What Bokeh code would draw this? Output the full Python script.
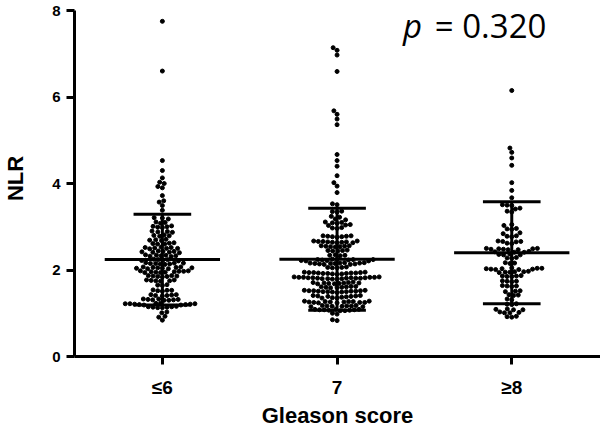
import numpy as np
from bokeh.plotting import figure
from bokeh.models import Range1d, FixedTicker, Label
from bokeh.embed import file_html
from bokeh.resources import INLINE

categories = ["≤6", "7", "≥8"]
cat_pos = [1, 2, 3]

nlr_le6 = [7.75, 6.60, 4.53, 4.30, 4.13, 4.03, 4.00, 3.93, 3.90, 3.72, 3.60, 3.57, 3.49, 3.38,
           3.21, 3.20, 3.18, 3.11, 3.10, 3.08, 3.02, 3.01, 3.00, 2.99, 2.98,
           2.90, 2.89, 2.88, 2.87, 2.81, 2.80, 2.79, 2.78, 2.71, 2.70, 2.69, 2.68,
           2.63, 2.62, 2.61, 2.60, 2.60, 2.53, 2.52, 2.52, 2.51, 2.50, 2.50, 2.49,
           2.44, 2.43, 2.43, 2.42, 2.41, 2.41, 2.40, 2.35, 2.34, 2.34, 2.33, 2.33, 2.32, 2.31,
           2.25, 2.24, 2.24, 2.23, 2.22, 2.21, 2.17, 2.16, 2.16, 2.15, 2.15, 2.14, 2.14, 2.13,
           2.07, 2.07, 2.06, 2.06, 2.05, 2.05, 2.04, 2.04, 2.03, 2.03,
           1.98, 1.98, 1.97, 1.97, 1.96, 1.96, 1.95, 1.95, 1.94, 1.94,
           1.87, 1.87, 1.86, 1.86, 1.85, 1.85, 1.84, 1.77, 1.77, 1.76, 1.75, 1.75, 1.74,
           1.66, 1.65, 1.64, 1.54, 1.53, 1.53, 1.52, 1.51, 1.43, 1.43, 1.42, 1.41, 1.41, 1.40,
           1.33, 1.33, 1.32, 1.32, 1.31, 1.31, 1.30, 1.30,
           1.23, 1.23, 1.22, 1.22, 1.22, 1.21, 1.21, 1.20, 1.20, 1.19, 1.19,
           1.16, 1.15, 1.15, 1.14, 1.14, 1.13, 1.13, 1.03, 1.01, 0.93, 0.91, 0.84]

nlr_7 = [7.14, 7.08, 6.97, 6.59, 5.68, 5.60, 5.49, 5.36, 4.67, 4.53, 4.40, 4.18, 4.02, 3.94, 3.79, 3.53, 3.51,
         3.36, 3.35, 3.34, 3.24, 3.22, 3.18, 3.16, 3.11, 3.10, 3.09, 3.08, 3.05, 3.04, 3.03,
         2.98, 2.97, 2.96, 2.79, 2.79, 2.78, 2.78, 2.77, 2.77, 2.76,
         2.67, 2.67, 2.66, 2.66, 2.65, 2.65, 2.64, 2.64, 2.63, 2.63,
         2.56, 2.56, 2.55, 2.55, 2.54, 2.54, 2.53, 2.46, 2.45, 2.45, 2.44, 2.44,
         2.35, 2.34, 2.34, 2.33,
         2.25, 2.25, 2.24, 2.24, 2.24, 2.23, 2.23, 2.22, 2.22, 2.21, 2.21,
         2.17, 2.17, 2.16, 2.16, 2.16, 2.15, 2.15, 2.15, 2.14, 2.14, 2.13, 2.13,
         2.07, 2.06, 2.06, 2.05, 2.05,
         1.95, 1.95, 1.94, 1.94, 1.94, 1.93, 1.93, 1.93, 1.92, 1.92, 1.92, 1.91, 1.91, 1.90,
         1.84, 1.84, 1.83, 1.83, 1.83, 1.83, 1.82, 1.82, 1.82, 1.82, 1.81, 1.81, 1.81, 1.81,
         1.80, 1.80, 1.80, 1.79, 1.79,
         1.72, 1.71, 1.71, 1.70, 1.70, 1.70, 1.69, 1.69, 1.68, 1.68,
         1.62, 1.62, 1.61, 1.61, 1.60, 1.60, 1.59, 1.59,
         1.53, 1.53, 1.52, 1.52, 1.52, 1.51, 1.51, 1.51, 1.50, 1.50, 1.50, 1.49, 1.49, 1.48,
         1.41, 1.41, 1.40, 1.40, 1.39, 1.39, 1.38, 1.37, 1.36, 1.35, 1.35,
         1.28, 1.28, 1.27, 1.27, 1.27, 1.26, 1.26, 1.26, 1.25, 1.25, 1.25, 1.24, 1.24,
         1.18, 1.18, 1.17, 1.17, 1.17, 1.16, 1.16, 1.15, 1.15,
         1.09, 1.09, 1.09, 1.08, 1.08, 1.08, 1.07, 1.07, 1.06, 1.06,
         1.00, 0.98, 0.85, 0.83]

nlr_ge8 = [6.15, 4.82, 4.72, 4.59, 4.42, 4.02, 3.84, 3.67,
           3.51, 3.50, 3.49, 3.43, 3.41, 3.36, 3.34, 3.05, 3.03, 2.96, 2.95, 2.94,
           2.86, 2.84, 2.79, 2.78, 2.77, 2.67, 2.66, 2.66, 2.65, 2.62, 2.61,
           2.50, 2.50, 2.49, 2.49, 2.48, 2.48, 2.47, 2.47, 2.43, 2.42, 2.41, 2.41,
           2.37, 2.36, 2.35, 2.35, 2.29, 2.28, 2.27, 2.17, 2.16, 2.15,
           2.05, 2.04, 2.04, 2.03, 2.03, 2.02, 2.02, 2.01, 2.01,
           1.97, 1.96, 1.96, 1.95, 1.95, 1.94, 1.87, 1.86, 1.86, 1.85, 1.85,
           1.75, 1.74, 1.74, 1.73, 1.64, 1.63, 1.63, 1.62, 1.52, 1.51, 1.50,
           1.43, 1.42, 1.41, 1.33, 1.31, 1.22, 1.21, 1.20,
           1.10, 1.09, 1.08, 1.08, 1.03, 1.02, 1.01, 1.01, 0.93, 0.92, 0.91]

group_means = [2.24, 2.25, 2.40]
group_sds = [1.05, 1.18, 1.18]
y_ticks = [0, 2, 4, 6, 8]

W, H = 600, 435
ML, MB = 73, 79
X0, X1 = 0.497, 3.508
# y = 8 sits 10px below the top of the frame; the frame runs to the top of the canvas
px_y = (H - MB - 10) / 8.0
Y0, Y1 = 0.0, (H - MB) / px_y

p = figure(width=W, height=H, output_backend="svg", toolbar_location=None,
           x_range=Range1d(X0, X1), y_range=Range1d(Y0, Y1),
           min_border_left=ML, min_border_right=0, min_border_top=0, min_border_bottom=MB)
p.outline_line_color = None
p.xgrid.visible = False
p.ygrid.visible = False
p.background_fill_color = "white"

px_x = (W - ML) / (X1 - X0)
D = 4.7


def swarm(values, center):
    vals = np.asarray(values, dtype=float)
    order = np.argsort(vals, kind="stable")
    placed = []
    out = np.zeros(len(vals))
    for i in order:
        y = vals[i] * px_y
        near = [(qx, qy) for qx, qy in placed if abs(qy - y) < D]
        cands = [0.0]
        for qx, qy in near:
            dx = np.sqrt(D * D - (qy - y) ** 2)
            cands += [qx + dx, qx - dx]
        cands.sort(key=lambda c: (abs(c), c))
        chosen = 0.0
        for c in cands:
            if all((c - qx) ** 2 + (y - qy) ** 2 >= D * D - 1e-6 for qx, qy in near):
                chosen = c
                break
        placed.append((chosen, y))
        out[i] = center + chosen / px_x
    return out


for vals, cx in zip([nlr_le6, nlr_7, nlr_ge8], cat_pos):
    xs = swarm(vals, cx)
    p.scatter(xs, vals, size=4, color="black", marker="circle")

mean_half = 0.33
cap_half = 0.165
for cx, m, s in zip(cat_pos, group_means, group_sds):
    p.segment(x0=[cx - mean_half], y0=[m], x1=[cx + mean_half], y1=[m], line_width=3, color="black")
    p.segment(x0=[cx - cap_half], y0=[m + s], x1=[cx + cap_half], y1=[m + s], line_width=3, color="black")
    p.segment(x0=[cx - cap_half], y0=[m - s], x1=[cx + cap_half], y1=[m - s], line_width=3, color="black")
    p.segment(x0=[cx], y0=[m - s], x1=[cx], y1=[m + s], line_width=3, color="black")

# axes
for ax in (p.xaxis[0], p.yaxis[0]):
    ax.axis_line_width = 3
    ax.major_tick_line_width = 3
    ax.major_tick_out = 8
    ax.major_tick_in = 0
    ax.minor_tick_line_color = None
    ax.axis_line_color = "black"
    ax.major_tick_line_color = "black"
    ax.major_label_text_font = "Liberation Sans"
    ax.major_label_text_font_style = "bold"
    ax.major_label_text_color = "black"
    ax.axis_label_text_font = "Liberation Sans"
    ax.axis_label_text_font_style = "bold"
    ax.axis_label_text_color = "black"
    ax.axis_label_text_font_size = "22px"

p.yaxis.ticker = FixedTicker(ticks=y_ticks)
p.yaxis.bounds = (0, 8)
p.yaxis.major_label_text_font_size = "15px"
p.yaxis.major_label_standoff = 6
p.yaxis.axis_label = "NLR"
p.yaxis.axis_label_standoff = 21

p.xaxis.ticker = FixedTicker(ticks=cat_pos)
p.xaxis.major_label_overrides = {c: lab for c, lab in zip(cat_pos, categories)}
p.xaxis.major_label_text_font_size = "19px"
p.xaxis.major_label_standoff = 12
p.xaxis.axis_label = "Gleason score"
p.xaxis.axis_label_standoff = 2

# p-value annotation (anchored at its top edge)
p_y = Y1 - 2 / px_y
p.add_layout(Label(x=X0 + (402 - ML) / px_x, y=p_y, text="p", text_font="Open Sans",
                   text_font_style="italic", text_baseline="top",
                   text_font_size="33px", text_color="black"))
p.add_layout(Label(x=X0 + (434 - ML) / px_x, y=p_y, text="= 0.320", text_font="Open Sans",
                   text_baseline="top",
                   text_font_size="33px", text_color="black"))

open("out.html", "w").write(file_html(p, INLINE))
